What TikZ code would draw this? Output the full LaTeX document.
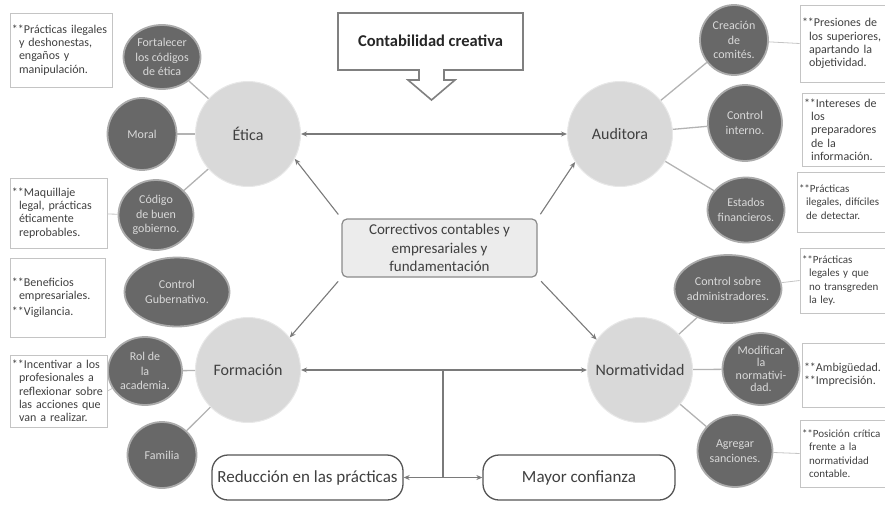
\documentclass[tikz,border=0pt]{standalone}
\usepackage{fontspec}
\setmainfont{Carlito}
\usetikzlibrary{arrows.meta,shapes.geometric}
\definecolor{bigc}{HTML}{D9D9D9}
\definecolor{darkc}{HTML}{686868}
\definecolor{rimc}{HTML}{ABABAB}
\definecolor{linec}{HTML}{B3B3B3}
\definecolor{arrc}{HTML}{7A7A7A}
\definecolor{txt}{HTML}{404040}
\definecolor{boxc}{HTML}{C4C4C4}
\definecolor{titc}{HTML}{808080}
\definecolor{corrf}{HTML}{ECECEC}
\definecolor{corrd}{HTML}{8A8A8A}
\definecolor{botd}{HTML}{555555}
\newcommand{\bxs}{**}
\newcommand{\bxi}{\hspace*{7pt}}
\begin{document}
\begin{tikzpicture}[x=1pt,y=-1pt,
  big/.style={circle, fill=bigc, draw=bigc!60!white, line width=1pt, minimum size=105pt, inner sep=0pt, text=txt, font=\fontsize{16}{19}\selectfont},
  small/.style={ellipse, fill=darkc, draw=rimc, line width=1.8pt, inner sep=0pt, text=white!85!black, align=center, font=\fontsize{12}{14.4}\selectfont},
  tbox/.style={draw=boxc, line width=0.8pt, inner xsep=2pt, inner ysep=0pt, align=left, text=txt, font=\fontsize{12}{13.3}\selectfont},
  sbox/.style={tbox, font=\fontsize{11}{13.3}\selectfont},
  link/.style={draw=linec, line width=1.3pt},
  blink/.style={draw=boxc, line width=0.8pt},
  arr/.style={draw=arrc, line width=1.1pt, -{Stealth[length=6pt,width=5pt]}},
  barr/.style={draw=arrc, line width=1.1pt, {Stealth[length=6pt,width=5pt]}-{Stealth[length=6pt,width=5pt]}},
  botbox/.style={draw=botd, fill=white, line width=1.3pt, rounded corners=16pt, minimum width=191pt, minimum height=45pt, inner sep=0pt, text=txt, font=\fontsize{17}{20}\selectfont},
]
\useasboundingbox (0,0) rectangle (885,504);

% title callout
\draw[draw=titc, line width=1.6pt, fill=white] (338,13) -- (523,13) -- (523,70) -- (444,70) -- (444,80) -- (455,80) -- (431.5,100) -- (408,80) -- (419,80) -- (419,70) -- (338,70) -- cycle;
\node[font=\bfseries\fontsize{16.5}{20}\selectfont, text=black!85] (cc) at (430.5,41) {Contabilidad creativa};

% big circles
\node[big] (etica) at (248,134) {Ética};
\node[big] (audit) at (620,134) {Auditora};
\node[big] (form) at (248,370) {Formación};
\node[big] (norm) at (640,370) {Normatividad};

% centre box
\node[draw=corrd, fill=corrf, line width=1.2pt, rounded corners=5pt, minimum width=195pt, minimum height=58pt, align=center, text=txt, font=\fontsize{15}{18.5}\selectfont] (corr) at (439.5,248) {Correctivos contables y\\empresariales y\\fundamentación};

% small circles
\node[small, minimum width=77pt, minimum height=64pt] (fort) at (162,57) {Fortalecer\\los códigos\\de ética};
\node[small, minimum width=69pt, minimum height=72pt] (moral) at (142,134) {Moral};
\node[small, minimum width=75pt, minimum height=70pt] (codigo) at (156,215) {Código\\de buen\\gobierno.};
\node[small, minimum width=105pt, minimum height=69pt] (cgub) at (177,292) {Control\\Gubernativo.};
\node[small, minimum width=74pt, minimum height=68pt] (rol) at (145,371) {Rol de\\la\\academia.};
\node[small, minimum width=69pt, minimum height=66pt] (fam) at (162,455) {Familia};
\node[small, minimum width=68pt, minimum height=70pt] (crea) at (734,40) {Creación\\de\\comités.};
\node[small, minimum width=74pt, minimum height=76pt] (cint) at (745,123) {Control\\interno.};
\node[small, minimum width=77pt, minimum height=65pt, inner xsep=-1.5pt] (est) at (746,210) {Estados\\financieros.};
\node[small, minimum width=107pt, minimum height=68pt, inner xsep=-4pt] (csob) at (728,289) {Control sobre\\administradores.};
\node[small, minimum width=77pt, minimum height=72pt, font=\fontsize{12}{12.5}\selectfont] (modif) at (761,369) {Modificar\\la\\normativi-\\dad.};
\node[small, minimum width=75pt, minimum height=72pt] (agre) at (735,451) {Agregar\\sanciones.};

% text boxes left
\node[tbox, text width=98pt, minimum height=74pt] (bA) at (61,50) {\bxs Prácticas ilegales\\\bxi y deshonestas,\\\bxi engaños y\\\bxi manipulación.};
\node[tbox, text width=93pt, minimum height=70pt] (bB) at (58.5,213) {\bxs Maquillaje\\\bxi legal, prácticas\\\bxi éticamente\\\bxi reprobables.};
\node[tbox, text width=91pt, minimum height=79pt] (bC) at (57.5,297.5) {\bxs Beneficios\\\bxi empresariales.\\[2pt]\bxs Vigilancia.};
\node[tbox, text width=93pt, minimum height=72pt] (bD) at (58.5,391) {\bxs Incentivar a los\\\bxi profesionales a\\\bxi reflexionar sobre\\\bxi las acciones que\\\bxi van a realizar.};

% text boxes right (running off the right edge)
\node[tbox, text width=82pt, minimum height=77pt] (bE) at (843,43.5) {\bxs Presiones de\\\bxi los superiores,\\\bxi apartando la\\\bxi objetividad.};
\node[tbox, text width=100pt, minimum height=73pt] (bF) at (854,129.5) {\bxs Intereses de\\\bxi los\\\bxi preparadores\\\bxi de la\\\bxi información.};
\node[sbox, text width=100pt, minimum height=60pt] (bG) at (849,202) {\bxs Prácticas\\\bxi ilegales, difíciles\\\bxi de detectar.};
\node[sbox, text width=100pt, minimum height=65pt] (bH) at (852,280.5) {\bxs Prácticas\\\bxi legales y que\\\bxi no transgreden\\\bxi la ley.};
\node[tbox, text width=100pt, minimum height=64pt] (bI) at (854,375) {\bxs Ambigüedad.\\\bxs Imprecisión.};
\node[sbox, text width=100pt, minimum height=67pt] (bJ) at (852,453.5) {\bxs Posición crítica\\\bxi frente a la\\\bxi normatividad\\\bxi contable.};

% bottom boxes
\node[botbox] (red) at (307.5,477.5) {Reducción en las prácticas};
\node[botbox, minimum width=192pt] (may) at (579,477.5) {Mayor confianza};

% links small -> big
\draw[link] (fort) -- (etica);
\draw[link] (moral) -- (etica);
\draw[link] (codigo) -- (etica);
\draw[link] (rol) -- (form);
\draw[link] (fam) -- (form);
\draw[link] (crea) -- (audit);
\draw[link] (cint) -- (audit);
\draw[link] (est) -- (audit);
\draw[link] (csob) -- (norm);
\draw[link] (modif) -- (norm);
\draw[link] (agre) -- (norm);

% links boxes -> small circles
\draw[blink] (bB) -- (codigo);
\draw[blink] (bD.east) -- (rol);
\draw[blink] (bE.west) -- (crea);
\draw[blink] (bH.west) -- (csob);
\draw[blink] (bJ.west) -- (agre);

% arrows
\draw[arr, shorten <=5pt] (corr.north west) -- (etica.-28);
\draw[arr, shorten <=5pt] (corr.north east) -- (audit.-148);
\draw[arr, shorten <=5pt] (corr.south west) -- (form.38);
\draw[arr, shorten <=5pt] (corr.south east) -- (norm.145);
\draw[barr] (etica) -- (audit);
\draw[barr] (form) -- (norm);

\coordinate (j1) at (443,370);
\coordinate (j2) at (443,477.5);
\draw[draw=arrc, line width=1.1pt] (j1) -- (j2);
\draw[arr] (j2) -- (red);
\draw[arr] (j2) -- (may);
\end{tikzpicture}
\end{document}
